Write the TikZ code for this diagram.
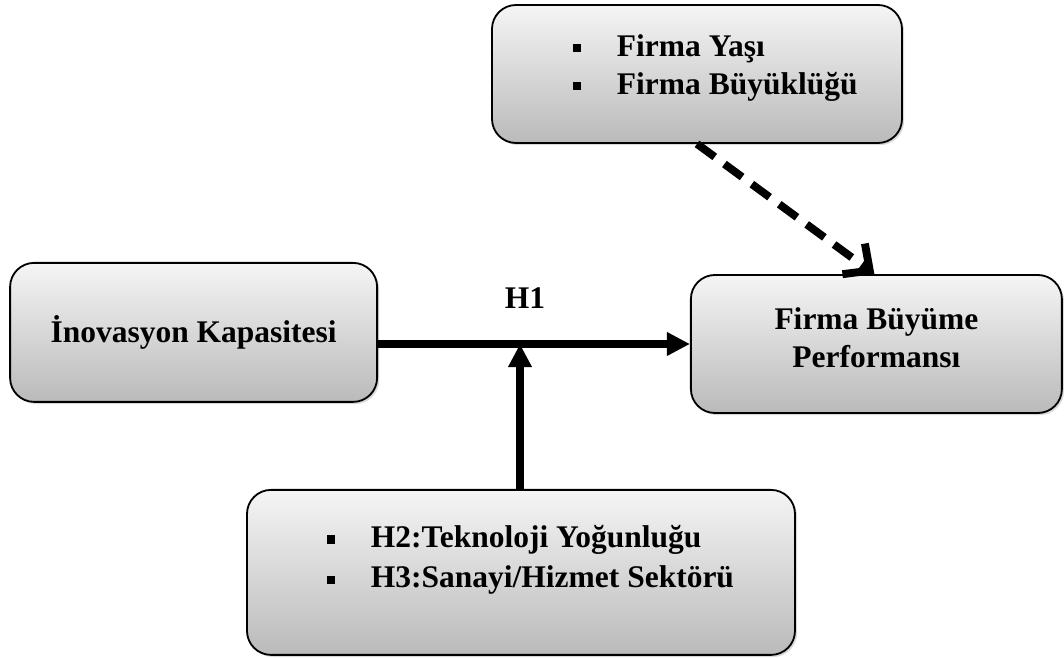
\documentclass[tikz,border=0pt]{standalone}
\usepackage{fontspec}
\setmainfont{Liberation Serif}
\usepackage{tikz}
\usetikzlibrary{calc, arrows.meta, shadows, positioning}

\newcommand{\sqbul}{\makebox[1.1cm][l]{\rule[0.28ex]{5.8pt}{5.8pt}}}

\begin{document}
\begin{tikzpicture}[
    box/.style={draw=black, line width=1.3pt, rounded corners=0.6cm,
        top color=black!4, bottom color=black!27,
        drop shadow={shadow xshift=1.5pt, shadow yshift=-1.5pt, opacity=0.3}},
    lbl/.style={font=\fontsize{22.4}{27}\selectfont\bfseries, align=center},
    mainarrow/.style={line width=6.2pt, -{Triangle[length=0.58cm, width=0.56cm]}},
    ctrlarrow/.style={line width=5.6pt, dash pattern=on 0.55cm off 0.3cm,
        -{Straight Barb[length=0.5cm, width=0.95cm, line width=5.6pt]}}
]
    % 1. Canvas
    \useasboundingbox (0,0) rectangle (26.6,16.45);

    % 2. Boxes
    \node[box, minimum width=10.25cm, minimum height=3.45cm] (ctrl) at (17.425,14.6) {};
    \node[box, minimum width=9.175cm, minimum height=3.475cm] (inov) at (4.84,8.14) {};
    \node[box, minimum width=9.275cm, minimum height=3.45cm] (perf) at (21.91,7.85) {};
    \node[box, minimum width=13.7cm, minimum height=4.125cm] (mod) at (13.025,2.14) {};

    % 3. Texts
    \node[lbl, align=left, anchor=west] (ctrltxt) at (14.2,14.75)
        {\sqbul Firma Yaşı\\ \sqbul Firma Büyüklüğü};
    \node[lbl] (inovtxt) at (inov.center) {İnovasyon Kapasitesi};
    \node[lbl] (perftxt) at ([yshift=0.15cm]perf.center) {Firma Büyüme\\ Performansı};
    \node[lbl, align=left, anchor=west, font=\fontsize{22.4}{28.5}\selectfont\bfseries]
        (modtxt) at (8.05,2.45)
        {\sqbul H2:Teknoloji Yoğunluğu\\ \sqbul H3:Sanayi/Hizmet Sektörü};
    \node[lbl] (h1) at (13.125,9.0) {H1};

    % 4. Arrows
    \coordinate (h1mid) at (13.0,7.85);
    \draw[mainarrow] (perf.west -| inov.east) -- (perf.west);
    \draw[mainarrow] (mod.north -| h1mid) -- (h1mid);
    \draw[ctrlarrow] (ctrl.south) -- ([xshift=-0.05cm]perf.north);
\end{tikzpicture}
\end{document}
